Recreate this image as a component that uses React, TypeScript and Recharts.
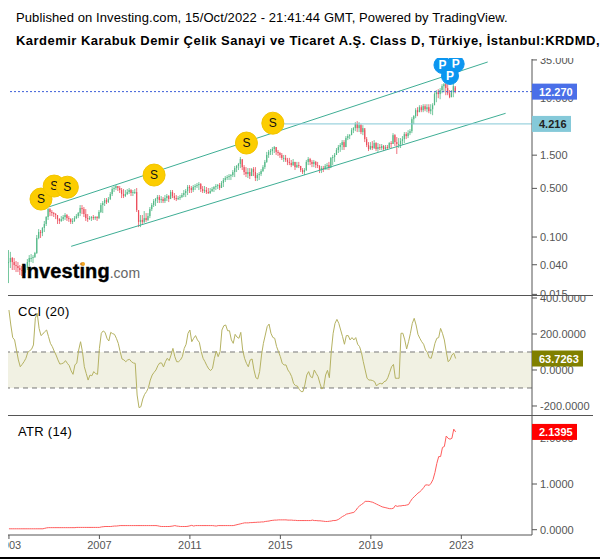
import React from "react";
import { ComposedChart, Bar, Line, XAxis, YAxis, ReferenceLine, ReferenceArea, ReferenceDot } from "recharts";

// Monthly candles, Jan 2003 - Oct 2022 (one row per year)
const highs = [
  0.065, 0.0612, 0.0516, 0.05, 0.0452, 0.0437, 0.0396, 0.0383, 0.0383, 0.0396, 0.0483, 0.055,
  0.057, 0.055, 0.0612, 0.107, 0.13, 0.126, 0.139, 0.17, 0.2, 0.261, 0.261, 0.244,
  0.229, 0.221, 0.2, 0.187, 0.2, 0.207, 0.221, 0.214, 0.2, 0.187, 0.187, 0.2,
  0.214, 0.229, 0.288, 0.288, 0.27, 0.252, 0.214, 0.2, 0.2, 0.207, 0.2, 0.2,
  0.244, 0.308, 0.329, 0.363, 0.363, 0.375, 0.443, 0.523, 0.54, 0.558, 0.54, 0.54,
  0.506, 0.489, 0.473, 0.489, 0.506, 0.489, 0.473, 0.489, 0.506, 0.229, 0.207, 0.207,
  0.236, 0.221, 0.221, 0.27, 0.308, 0.351, 0.363, 0.401, 0.401, 0.388, 0.375, 0.401,
  0.415, 0.401, 0.473, 0.473, 0.429, 0.401, 0.388, 0.401, 0.429, 0.473, 0.489, 0.558,
  0.558, 0.54, 0.558, 0.577, 0.597, 0.617, 0.597, 0.54, 0.54, 0.523, 0.506, 0.506,
  0.523, 0.54, 0.577, 0.577, 0.597, 0.637, 0.704, 0.752, 0.777, 0.803, 0.803, 0.917,
  1.05, 1.08, 1.16, 1.41, 1.28, 1.08, 1.01, 0.979, 0.979, 0.979, 1.01, 1.01,
  0.83, 0.858, 0.947, 1.08, 1.28, 1.67, 1.78, 1.84, 1.96, 2.03, 1.96, 1.78,
  1.67, 1.61, 1.51, 1.51, 1.37, 1.37, 1.28, 1.32, 1.2, 1.2, 1.2, 1.05,
  0.979, 0.979, 1.28, 1.41, 1.37, 1.28, 1.28, 1.24, 1.2, 1.08, 1.05, 1.05,
  1.12, 1.16, 1.2, 1.41, 1.51, 1.61, 1.9, 2.1, 2.24, 2.47, 2.47, 2.82,
  3.01, 3.01, 3.67, 3.79, 4.47, 4.62, 4.47, 4.18, 4.05, 3.43, 2.73, 2.31,
  2.31, 2.39, 2.47, 2.31, 2.24, 2.17, 2.17, 2.1, 2.1, 2.1, 2.31, 2.39,
  3.11, 3.01, 2.73, 2.64, 2.64, 2.82, 3.22, 3.22, 3.43, 3.55, 5.27, 5.63,
  7.09, 7.33, 7.83, 7.83, 8.09, 8.09, 8.09, 8.09, 8.09, 8.36, 12, 12.9,
  13.3, 13.8, 15.7, 16.3, 16.3, 15.7, 12.9, 12.9, 16.3, 13.8,
];
const lows = [
  0.0218, 0.0359, 0.0336, 0.0336, 0.0314, 0.0314, 0.0285, 0.0276, 0.0276, 0.0304, 0.0336, 0.0383,
  0.0437, 0.0423, 0.05, 0.057, 0.093, 0.097, 0.103, 0.118, 0.144, 0.176, 0.2, 0.2,
  0.194, 0.181, 0.154, 0.154, 0.165, 0.17, 0.176, 0.17, 0.165, 0.154, 0.154, 0.165,
  0.181, 0.187, 0.2, 0.214, 0.194, 0.17, 0.165, 0.176, 0.17, 0.176, 0.176, 0.17,
  0.181, 0.221, 0.221, 0.279, 0.298, 0.308, 0.34, 0.388, 0.443, 0.473, 0.458, 0.429,
  0.363, 0.363, 0.375, 0.401, 0.415, 0.388, 0.388, 0.415, 0.229, 0.139, 0.139, 0.154,
  0.159, 0.165, 0.17, 0.187, 0.236, 0.27, 0.279, 0.308, 0.308, 0.308, 0.308, 0.308,
  0.329, 0.318, 0.363, 0.363, 0.34, 0.329, 0.34, 0.34, 0.363, 0.375, 0.375, 0.401,
  0.429, 0.429, 0.443, 0.473, 0.506, 0.473, 0.443, 0.429, 0.429, 0.415, 0.415, 0.415,
  0.443, 0.443, 0.473, 0.489, 0.473, 0.506, 0.523, 0.617, 0.659, 0.659, 0.659, 0.727,
  0.727, 0.858, 0.917, 0.979, 0.917, 0.777, 0.727, 0.704, 0.681, 0.752, 0.752, 0.637,
  0.637, 0.659, 0.752, 0.858, 0.947, 1.16, 1.37, 1.51, 1.51, 1.61, 1.51, 1.46,
  1.37, 1.28, 1.2, 1.2, 1.08, 1.08, 1.01, 1.05, 0.917, 0.979, 0.979, 0.858,
  0.803, 0.777, 0.887, 1.08, 1.08, 1.01, 1.01, 0.979, 0.979, 0.83, 0.83, 0.858,
  0.917, 0.917, 0.917, 1.05, 1.08, 1.2, 1.51, 1.61, 1.67, 1.78, 1.78, 1.96,
  2.47, 2.55, 2.91, 3.11, 3.32, 3.22, 3.22, 3.01, 2.91, 2.31, 1.96, 1.72,
  1.78, 1.78, 1.84, 1.72, 1.67, 1.78, 1.78, 1.72, 1.78, 1.78, 1.9, 1.9,
  2.17, 2.03, 1.56, 1.9, 1.9, 2.1, 2.24, 2.55, 2.64, 2.91, 3.11, 4.18,
  5.1, 5.45, 6.22, 6.22, 6.22, 6.42, 6.22, 6.01, 5.82, 5.63, 7.83, 8.64,
  9.87, 9.55, 11.6, 12, 10.9, 10.9, 9.87, 10.2, 10.2, 11.6,
];
const closes = [
  0.0437, 0.05, 0.0437, 0.0396, 0.0383, 0.0359, 0.0336, 0.0325, 0.0314, 0.0359, 0.0437, 0.05,
  0.05, 0.0516, 0.059, 0.097, 0.118, 0.114, 0.135, 0.154, 0.194, 0.252, 0.229, 0.221,
  0.214, 0.207, 0.181, 0.17, 0.181, 0.194, 0.207, 0.187, 0.181, 0.165, 0.17, 0.187,
  0.2, 0.221, 0.261, 0.252, 0.214, 0.187, 0.181, 0.187, 0.194, 0.187, 0.194, 0.187,
  0.229, 0.288, 0.308, 0.34, 0.318, 0.351, 0.415, 0.489, 0.506, 0.54, 0.506, 0.473,
  0.415, 0.388, 0.415, 0.443, 0.473, 0.429, 0.443, 0.443, 0.244, 0.165, 0.176, 0.165,
  0.187, 0.176, 0.2, 0.252, 0.288, 0.329, 0.351, 0.375, 0.34, 0.351, 0.329, 0.363,
  0.388, 0.351, 0.443, 0.388, 0.363, 0.351, 0.363, 0.375, 0.401, 0.429, 0.458, 0.523,
  0.506, 0.473, 0.523, 0.54, 0.558, 0.577, 0.489, 0.458, 0.473, 0.443, 0.429, 0.458,
  0.489, 0.523, 0.54, 0.558, 0.506, 0.597, 0.659, 0.704, 0.727, 0.752, 0.777, 0.858,
  0.979, 1.05, 1.12, 1.32, 1.01, 0.858, 0.803, 0.858, 0.752, 0.947, 0.858, 0.704,
  0.777, 0.803, 0.887, 1.01, 1.2, 1.51, 1.67, 1.72, 1.84, 1.96, 1.67, 1.61,
  1.51, 1.37, 1.37, 1.28, 1.2, 1.16, 1.08, 1.2, 1.01, 1.08, 1.05, 0.917,
  0.858, 0.917, 1.2, 1.32, 1.2, 1.12, 1.2, 1.08, 1.05, 0.917, 0.979, 0.947,
  1.05, 1.08, 0.979, 1.37, 1.41, 1.51, 1.78, 1.96, 2.1, 2.31, 1.96, 2.64,
  2.82, 2.91, 3.43, 3.67, 4.18, 3.67, 4.05, 3.22, 3.67, 2.55, 2.1, 1.84,
  2.03, 1.9, 2.24, 1.84, 1.96, 1.9, 2.03, 1.84, 1.96, 1.9, 2.24, 2.17,
  2.91, 2.31, 2.17, 2.17, 2.39, 2.55, 3.01, 2.82, 3.11, 3.32, 4.93, 5.45,
  6.64, 6.22, 7.33, 6.64, 7.58, 6.86, 7.33, 6.42, 6.86, 7.83, 11.3, 12,
  11.3, 12.9, 14.7, 15.7, 13.8, 11.6, 10.2, 12, 14.7, 12.27,
];

const cciValues = [
  333, 250, 180, 167, 111, 56, 18, 31, 46, 65, 98, 107,
  115, 139, 287, 315, 231, 191, 200, 213, 222, 185, 148, 130,
  105, 83, 56, 33, 35, 39, 52, 37, 24, -5, -24, 28,
  39, 111, 157, 102, 18, -19, -56, -28, -32, -9, -20, -24,
  120, 204, 217, 209, 176, 161, 209, 202, 198, 176, 148, 102,
  61, 56, 46, 56, 59, 46, 39, 37, -139, -209, -204, -161,
  -135, -120, -98, -56, -28, -13, 0, 24, 39, 39, 17, 46,
  65, 52, 83, 120, 74, 46, 46, 56, 74, 120, 143, 204,
  222, 157, 176, 191, 167, 154, 102, 65, 46, 24, 6, -3,
  9, 65, 105, 74, 102, 222, 246, 250, 218, 218, 167, 148,
  198, 183, 176, 209, 111, 65, 37, 18, 56, 61, 0, -43,
  -50, -9, 83, 148, 194, 241, 255, 204, 181, 176, 130, 102,
  74, 37, 28, 28, 0, -15, -37, -74, -87, -89, -107, -120,
  -120, -83, -28, -9, -37, -43, 0, -19, -37, -74, -106, -93,
  -28, -2, -43, 102, 204, 259, 281, 259, 222, 185, 143, 191,
  191, 167, 180, 167, 180, 143, 130, 98, 46, 0, -46, -56,
  -56, -59, -65, -89, -78, -74, -78, -65, -61, -43, -13, 18,
  31, -46, -46, -46, 204, 204, 167, 117, 157, 204, 259, 287,
  250, 198, 176, 157, 143, 111, 98, 68, 65, 102, 148, 176,
  180, 231, 204, 167, 102, 46, 56, 83, 93, 63.7263,
];

const atrValues = [
  0.02, 0.02, 0.02, 0.02, 0.02, 0.02, 0.02, 0.02, 0.02, 0.02, 0.02, 0.02,
  0.02, 0.02, 0.02, 0.02, 0.02, 0.02, 0.02, 0.03, 0.04, 0.045, 0.045, 0.045,
  0.045, 0.045, 0.045, 0.045, 0.045, 0.045, 0.045, 0.045, 0.045, 0.045, 0.045, 0.045,
  0.05, 0.05, 0.05, 0.05, 0.05, 0.05, 0.05, 0.05, 0.05, 0.05, 0.05, 0.05,
  0.05, 0.06, 0.065, 0.07, 0.07, 0.07, 0.07, 0.075, 0.08, 0.08, 0.085, 0.09,
  0.09, 0.09, 0.09, 0.09, 0.09, 0.09, 0.09, 0.09, 0.09, 0.09, 0.09, 0.09,
  0.09, 0.09, 0.09, 0.09, 0.09, 0.09, 0.09, 0.085, 0.075, 0.07, 0.07, 0.07,
  0.07, 0.07, 0.075, 0.08, 0.09, 0.08, 0.075, 0.07, 0.07, 0.07, 0.07, 0.075,
  0.085, 0.095, 0.08, 0.09, 0.09, 0.09, 0.09, 0.09, 0.09, 0.09, 0.09, 0.09,
  0.09, 0.085, 0.08, 0.09, 0.09, 0.09, 0.09, 0.09, 0.09, 0.09, 0.09, 0.09,
  0.1, 0.11, 0.12, 0.13, 0.14, 0.15, 0.15, 0.15, 0.155, 0.155, 0.16, 0.16,
  0.165, 0.165, 0.17, 0.17, 0.18, 0.185, 0.19, 0.2, 0.205, 0.21, 0.21, 0.215,
  0.215, 0.215, 0.215, 0.215, 0.21, 0.21, 0.21, 0.205, 0.205, 0.2, 0.2, 0.2,
  0.2, 0.2, 0.2, 0.2, 0.2, 0.21, 0.2, 0.2, 0.195, 0.195, 0.19, 0.185,
  0.18, 0.18, 0.185, 0.19, 0.2, 0.2, 0.21, 0.23, 0.26, 0.29, 0.31, 0.34,
  0.35, 0.36, 0.37, 0.38, 0.42, 0.48, 0.52, 0.55, 0.58, 0.62, 0.62, 0.62,
  0.61, 0.6, 0.58, 0.56, 0.54, 0.52, 0.5, 0.49, 0.48, 0.47, 0.46, 0.46,
  0.47, 0.53, 0.51, 0.52, 0.52, 0.53, 0.53, 0.54, 0.55, 0.62, 0.68, 0.72,
  0.76, 0.8, 0.83, 0.87, 0.92, 0.98, 0.98, 0.97, 1.02, 1.1, 1.25, 1.45,
  1.6, 1.6, 1.8, 1.82, 2.05, 2.0, 1.98, 2.0, 2.2, 2.1395,
];

// Drawn on the price pane
const dividendMonths = [17, 24, 31, 77, 126, 140];
const dividendPrices = [0.351, 0.54, 0.52, 0.777, 2.24, 4.32];
const splitMonths = [230, 237, 234];
const splitPrices = [29.6, 30.6, 20.6];
const upperChannel = { months: [21, 254], prices: [0.27, 32.7] };
const lowerChannel = { months: [33, 263.5], prices: [0.0735, 5.99] };

const priceTicks = [35, 10, 4, 1.5, 0.5, 0.1, 0.04, 0.015];
const cciTicks = [400, 200, 0, -200];
const atrTicks = [0, 1, 2];
const yearTicks = [2003, 2007, 2011, 2015, 2019, 2023];

const lastPrice = 12.27;
const linePrice = 4.216;
const lastCci = 63.7263;
const lastAtr = 2.1395;

const monthsOf = (year: number) => (year - 2003) * 12;
const candles = closes.map((close, i) => ({
  month: i,
  open: i === 0 ? close : closes[i - 1],
  close,
  range: [lows[i], highs[i]],
}));
const cciData = cciValues.map((value, i) => ({ month: i, value }));
const atrData = atrValues.map((value, i) => ({ month: i, value }));

const WIDTH = 586;
const RIGHT = 62;
const MONTH_DOMAIN: [number, number] = [-0.5, 277.5];
const AXIS = "#555";
const TICK = { fill: "#555", fontSize: 11, fontFamily: "Liberation Sans" };

// One candle: the bar gives the low-high box, open and close are placed inside it on the log scale
const Candle = (props: any) => {
  const { x, y, width, height, payload } = props;
  const [low, high] = payload.range;
  const at = (v: number) => y + (height * (Math.log(high) - Math.log(v))) / (Math.log(high) - Math.log(low));
  const up = payload.close >= payload.open;
  const color = up ? "#53b987" : "#eb4d5c";
  const mid = x + width / 2;
  const top = at(Math.max(payload.open, payload.close));
  const bottom = at(Math.min(payload.open, payload.close));
  return (
    <g>
      <line x1={mid} x2={mid} y1={y} y2={y + height} stroke={color} strokeWidth={0.8} />
      <rect x={mid - 0.6} y={top} width={1.2} height={Math.max(bottom - top, 1)} fill={color} />
    </g>
  );
};

const Badge = ({ cx, cy, r, fill, stroke, text, color, bold }: any) => (
  <g>
    <circle cx={cx} cy={cy} r={r} fill={fill} stroke={stroke} />
    <text x={cx} y={cy + 4} textAnchor="middle" fontSize={12} fontWeight={bold ? 700 : 400} fontFamily="Liberation Sans" fill={color}>
      {text}
    </text>
  </g>
);

// Value tag on the right-hand axis, drawn as the tick of a second axis so it covers the first axis' labels
const TagTick = (props: any) => {
  const { y, payload, tags, left } = props;
  const tag = tags[payload.value];
  return (
    <g>
      <rect x={left} y={y - 8} width={tag.width} height={16} fill={tag.fill} />
      <text x={left + 7} y={y + 4} fontSize={11} fontWeight={700} fontFamily="Liberation Sans" fill={tag.color}>
        {tag.text}
      </text>
    </g>
  );
};

const TagAxis = (domain: [number, number], tags: any, scale?: any) => (
  <YAxis
    yAxisId="tags"
    orientation="right"
    mirror
    width={1}
    scale={scale ?? "auto"}
    domain={domain}
    allowDataOverflow
    ticks={Object.keys(tags).map(Number)}
    interval={0}
    axisLine={false}
    tickLine={false}
    tick={<TagTick tags={tags} left={WIDTH - RIGHT} />}
  />
);

const PRICE_DOMAIN: [number, number] = [0.0147, 36.1];
const CCI_DOMAIN: [number, number] = [-250, 411];
const ATR_DOMAIN: [number, number] = [-0.116, 2.488];

const priceTags = {
  [linePrice]: { text: "4.216", fill: "#85c9d9", color: "#222", width: 39 },
  [lastPrice]: { text: "12.270", fill: "#4a6fe8", color: "#fff", width: 45 },
};
const cciTags = { [lastCci]: { text: "63.7263", fill: "#808000", color: "#fff", width: 51 } };
const atrTags = { [lastAtr]: { text: "2.1395", fill: "#ff0000", color: "#fff", width: 45 } };

const Pane = ({ top, height, children }: any) => (
  <div style={{ position: "absolute", left: 8, top, width: WIDTH, height, overflow: "hidden" }}>{children}</div>
);

const Label = ({ x, y, children, style }: any) => (
  <div style={{ position: "absolute", left: x, top: y, fontFamily: "Liberation Sans", whiteSpace: "nowrap", color: "#000", ...style }}>
    {children}
  </div>
);

const Rule = ({ top, right }: any) => (
  <div style={{ position: "absolute", left: 8, top, width: right - 8, height: 1, background: AXIS }} />
);

export default function App() {
  return (
    <div style={{ position: "absolute", left: 0, top: 0, width: 600, height: 559, background: "#fff", overflow: "hidden" }}>
      <Label x={16} y={10} style={{ fontSize: 13, letterSpacing: 0.1 }}>
        Published on Investing.com, 15/Oct/2022 - 21:41:44 GMT, Powered by TradingView.
      </Label>
      <Label x={16} y={33} style={{ fontSize: 13, fontWeight: 700, letterSpacing: 0.47 }}>
        Kardemir Karabuk Demir Çelik Sanayi ve Ticaret A.Ş. Class D, Türkiye, İstanbul:KRDMD,
      </Label>

      <Pane top={58} height={238}>
        <ComposedChart width={WIDTH} height={238} data={candles} margin={{ top: 1, right: 0, bottom: 1, left: 0 }}>
          <XAxis dataKey="month" type="number" domain={MONTH_DOMAIN} hide allowDataOverflow />
          <YAxis
            orientation="right"
            width={RIGHT}
            scale="log"
            domain={PRICE_DOMAIN}
            ticks={priceTicks}
            interval={0}
            allowDataOverflow
            stroke={AXIS}
            tick={TICK}
            tickSize={5}
            tickMargin={3}
            tickFormatter={(v: number) => v.toFixed(3)}
          />
          {TagAxis(PRICE_DOMAIN, priceTags, "log")}
          <Bar dataKey="range" barSize={1} shape={<Candle />} isAnimationActive={false} />
          <ReferenceLine
            segment={[
              { x: upperChannel.months[0], y: upperChannel.prices[0] },
              { x: upperChannel.months[1], y: upperChannel.prices[1] },
            ]}
            stroke="#3fae95"
            strokeWidth={1}
          />
          <ReferenceLine
            segment={[
              { x: lowerChannel.months[0], y: lowerChannel.prices[0] },
              { x: lowerChannel.months[1], y: lowerChannel.prices[1] },
            ]}
            stroke="#3fae95"
            strokeWidth={1}
          />
          <ReferenceLine
            segment={[
              { x: 140, y: linePrice },
              { x: 277.5, y: linePrice },
            ]}
            stroke="#85c8d6"
            strokeWidth={1}
          />
          <ReferenceLine y={lastPrice} stroke="#3d5fd9" strokeDasharray="2 2" />
          {dividendMonths.map((m, i) => (
            <ReferenceDot
              key={m}
              x={m}
              y={dividendPrices[i]}
              shape={(p: any) => <Badge cx={p.cx} cy={p.cy} r={11} fill="#fccd00" stroke="#f3c500" text="S" color="#111" />}
            />
          ))}
          {splitMonths.map((m, i) => (
            <ReferenceDot
              key={m}
              x={m}
              y={splitPrices[i]}
              shape={(p: any) => <Badge cx={p.cx} cy={p.cy} r={8.5} fill="#0c96f0" stroke="#0c96f0" text="P" color="#fff" bold />}
            />
          ))}
        </ComposedChart>
      </Pane>

      <Pane top={296} height={119}>
        <ComposedChart width={WIDTH} height={119} data={cciData} margin={{ top: 0, right: 0, bottom: 0, left: 0 }}>
          <XAxis dataKey="month" type="number" domain={MONTH_DOMAIN} hide allowDataOverflow />
          <YAxis
            orientation="right"
            width={RIGHT}
            domain={CCI_DOMAIN}
            ticks={cciTicks}
            interval={0}
            allowDataOverflow
            stroke={AXIS}
            tick={TICK}
            tickSize={5}
            tickMargin={3}
            tickFormatter={(v: number) => v.toFixed(4)}
          />
          {TagAxis(CCI_DOMAIN, cciTags)}
          <ReferenceArea y1={-100} y2={100} fill="#f1f1e3" fillOpacity={1} stroke="none" />
          <ReferenceLine y={100} stroke="#777" strokeDasharray="5 4" />
          <ReferenceLine y={-100} stroke="#777" strokeDasharray="5 4" />
          <Line dataKey="value" stroke="#b5b262" strokeWidth={1} dot={false} isAnimationActive={false} />
        </ComposedChart>
      </Pane>

      <Pane top={416} height={137}>
        <ComposedChart width={WIDTH} height={137} data={atrData} margin={{ top: 0, right: 0, bottom: 0, left: 0 }}>
          <XAxis
            dataKey="month"
            type="number"
            domain={MONTH_DOMAIN}
            height={18}
            ticks={yearTicks.map(monthsOf)}
            interval={0}
            allowDataOverflow
            stroke={AXIS}
            tick={TICK}
            tickSize={4}
            tickMargin={2}
            tickFormatter={(m: number) => String(2003 + m / 12)}
          />
          <YAxis
            orientation="right"
            width={RIGHT}
            domain={ATR_DOMAIN}
            ticks={atrTicks}
            interval={0}
            allowDataOverflow
            stroke={AXIS}
            tick={TICK}
            tickSize={5}
            tickMargin={3}
            tickFormatter={(v: number) => v.toFixed(4)}
          />
          {TagAxis(ATR_DOMAIN, atrTags)}
          <Line dataKey="value" stroke="#ff5c5c" strokeWidth={1} dot={false} isAnimationActive={false} />
        </ComposedChart>
      </Pane>

      <Rule top={295} right={593} />
      <Rule top={415} right={593} />
      <div style={{ position: "absolute", left: 0, top: 557, width: 600, height: 2, background: "#000" }} />

      <Label x={18} y={304} style={{ fontSize: 13, letterSpacing: 0.3 }}>CCI (20)</Label>
      <Label x={18} y={424} style={{ fontSize: 13, letterSpacing: 0.3 }}>ATR (14)</Label>

      <Label x={21} y={260} style={{ fontSize: 20, fontWeight: 700, letterSpacing: 0.1, lineHeight: "23px", WebkitTextStroke: "0.4px #000" }}>
        Investing<span style={{ fontSize: 14, fontWeight: 400, color: "#666", letterSpacing: 0, WebkitTextStroke: "0" }}>.com</span>
      </Label>
      <div style={{ position: "absolute", left: 81, top: 262, width: 4, height: 4, borderRadius: 2, background: "#f5a623" }} />
    </div>
  );
}
